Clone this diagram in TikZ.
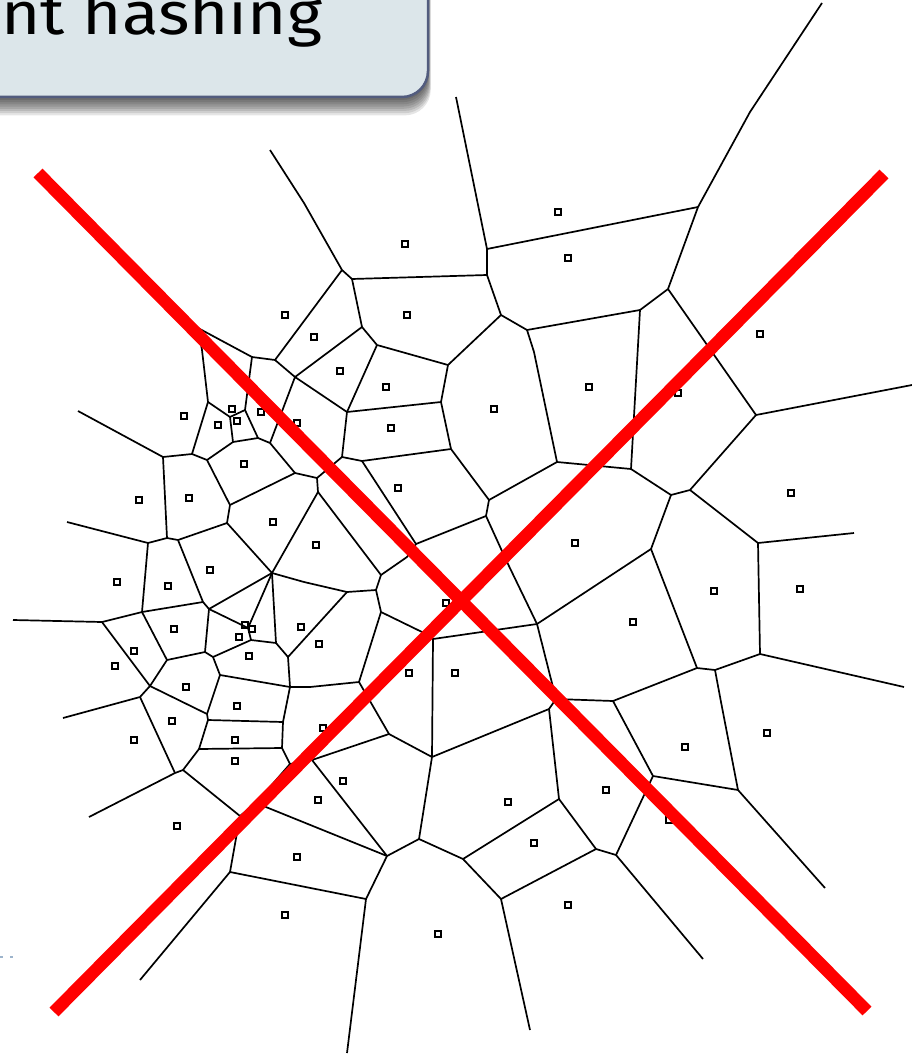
\documentclass[tikz,border=0pt]{standalone}
\usepackage{fontspec}
\setsansfont{Fira Sans}
\definecolor{boxfill}{HTML}{DCE6EA}
\definecolor{boxline}{HTML}{525C7E}
\definecolor{dashblue}{HTML}{9DB4CC}
\tikzset{
  cell/.style={line width=1.7pt, line join=round},
  site/.style={line width=1.5pt},
  cross/.style={red, line width=12.5pt},
}
\begin{document}
\begin{tikzpicture}[x=1pt,y=-1pt]
                \useasboundingbox (0,0) rectangle (912,1054);
                \clip (0,0) rectangle (912,1054);

                \foreach \d in {0,...,7}
                  \fill[black, opacity=0.1, rounded corners=26] (-30,-30) rectangle (428+0.4*\d,100+2.2*\d);
                \draw[boxline, fill=boxfill, line width=2.5pt, rounded corners=26] (-30,-30) rectangle (428,97);
                \node[anchor=base west, inner sep=0, xscale=1.12, font=\sffamily\fontsize{60}{60}\selectfont] (title) at (1,35) {nt hashing};

                \draw[cell] (270,150) -- (304,203) -- (342,270) -- (275,360) -- (252,357) -- (198,328) -- (188,318);
                \draw[cell] (342,270) -- (352,279) -- (487,275) -- (501,315) -- (448,365) -- (441,402) -- (451,449) -- (489,500) -- (557,462) -- (631,469) -- (640,310) -- (668,289) -- (698,207) -- (750,112) -- (822,3);
                \draw[cell] (352,279) -- (362,327) -- (295,377) -- (275,360);
                \draw[cell] (456,97) -- (487,249) -- (487,275);
                \draw[cell] (487,249) -- (698,207);
                \draw[cell] (640,310) -- (527,330) -- (501,315);
                \draw[cell] (527,330) -- (534,352) -- (557,462);
                \draw[cell] (668,289) -- (756,415) -- (912,385);
                \draw[cell] (756,415) -- (690,490) -- (671,495) -- (631,469);
                \draw[cell] (671,495) -- (651,549) -- (697,668) -- (715,670) -- (760,654) -- (758,543) -- (690,490);
                \draw[cell] (758,543) -- (854,533);
                \draw[cell] (760,654) -- (904,687);
                \draw[cell] (651,549) -- (537,624) -- (507,562) -- (486,516) -- (489,500);
                \draw[cell] (697,668) -- (613,701) -- (653,776) -- (738,790) -- (721,702) -- (715,670);
                \draw[cell] (738,790) -- (825,888);
                \draw[cell] (653,776) -- (616,855) -- (703,959);
                \draw[cell] (616,855) -- (596,849) -- (559,799) -- (549,709) -- (556,699) -- (613,701);
                \draw[cell] (556,699) -- (537,624) -- (433,639) -- (422,632) -- (381,612) -- (376,590) -- (381,575) -- (318,492) -- (317,478) -- (342,457) -- (347,412) -- (441,402);
                \draw[cell] (596,849) -- (501,899) -- (530,1030);
                \draw[cell] (501,899) -- (463,859) -- (559,799);
                \draw[cell] (463,859) -- (419,839) -- (432,757) -- (549,709);
                \draw[cell] (432,757) -- (433,639);
                \draw[cell] (432,757) -- (389,734) -- (359,682) -- (381,612);
                \draw[cell] (389,734) -- (312,760) -- (387,856) -- (419,839);
                \draw[cell] (387,856) -- (366,899) -- (347,1053);
                \draw[cell] (366,899) -- (230,872) -- (140,980);
                \draw[cell] (230,872) -- (240,816) -- (256,803) -- (387,856);
                \draw[cell] (256,803) -- (290,764) -- (312,760);
                \draw[cell] (290,764) -- (282,748) -- (283,722) -- (290,687) -- (288,657) -- (276,643) -- (272,573);
                \draw[cell] (240,816) -- (183,770) -- (175,773) -- (89,817);
                \draw[cell] (183,770) -- (199,749) -- (282,748);
                \draw[cell] (199,749) -- (208,720) -- (283,722);
                \draw[cell] (208,720) -- (207,714) -- (150,686) -- (140,697) -- (63,718);
                \draw[cell] (140,697) -- (175,773);
                \draw[cell] (207,714) -- (220,675) -- (290,687);
                \draw[cell] (290,687) -- (310,687) -- (359,682);
                \draw[cell] (220,675) -- (213,657) -- (205,652) -- (167,660) -- (150,686) -- (102,622) -- (13,620);
                \draw[cell] (102,622) -- (142,612) -- (167,660);
                \draw[cell] (142,612) -- (148,543) -- (67,522);
                \draw[cell] (142,612) -- (203,602) -- (178,540) -- (167,538) -- (148,543);
                \draw[cell] (203,602) -- (209,609) -- (205,652);
                \draw[cell] (209,609) -- (272,573);
                \draw[cell] (209,609) -- (248,628) -- (272,573);
                \draw[cell] (248,628) -- (251,640) -- (276,643);
                \draw[cell] (251,640) -- (213,657);
                \draw[cell] (288,657) -- (347,592) -- (376,590);
                \draw[cell] (347,592) -- (304,582) -- (272,573);
                \draw[cell] (272,573) -- (318,492);
                \draw[cell] (272,573) -- (227,523) -- (178,540);
                \draw[cell] (227,523) -- (230,505) -- (295,473) -- (317,478);
                \draw[cell] (230,505) -- (207,460) -- (192,454) -- (163,457) -- (78,411);
                \draw[cell] (163,457) -- (167,538);
                \draw[cell] (192,454) -- (208,402) -- (202,350) -- (198,328);
                \draw[cell] (208,402) -- (230,417) -- (245,410) -- (252,357);
                \draw[cell] (230,417) -- (233,442) -- (207,460);
                \draw[cell] (233,442) -- (258,438) -- (245,410);
                \draw[cell] (258,438) -- (270,443) -- (295,473);
                \draw[cell] (270,443) -- (295,377) -- (347,412);
                \draw[cell] (362,327) -- (377,345) -- (448,365);
                \draw[cell] (377,345) -- (347,412);
                \draw[cell] (342,457) -- (362,461) -- (451,449);
                \draw[cell] (362,461) -- (416,544) -- (486,516);
                \draw[cell] (416,544) -- (407,557) -- (381,575);

                \foreach \p in {(285,315),(405,244),(558,212),(568,258),(407,315),(314,337),(760,334),
                    (184,416),(232,409),(218,425),(237,421),(261,412),(297,423),(244,464),(139,500),(189,498),
                    (273,522),(210,570),(117,582),(168,586),(174,629),(245,625),(252,629),(239,637),(301,627),
                    (249,656),(134,651),(115,666),(186,687),(340,371),(386,387),(494,409),(589,387),(391,428),
                    (398,488),(316,545),(575,543),(446,603),(319,644),(409,673),(455,673),(678,393),(791,493),
                    (714,591),(800,589),(633,622),(237,706),(172,721),(134,740),(235,740),(235,761),(177,826),
                    (297,857),(285,915),(323,728),(343,781),(318,800),(508,802),(534,843),(568,905),(438,934),
                    (606,790),(685,747),(767,733),(669,820)}
                  \draw[site] \p +(-2.8,-2.8) rectangle +(2.8,2.8);

                \draw[cross] (38,173) -- (867,1011);
                \draw[cross] (884,174) -- (54,1012);

                \draw[dashblue, line width=1.3pt, dash pattern=on 3pt off 7pt] (0,957) -- (14,957);
            \end{tikzpicture}
\end{document}
